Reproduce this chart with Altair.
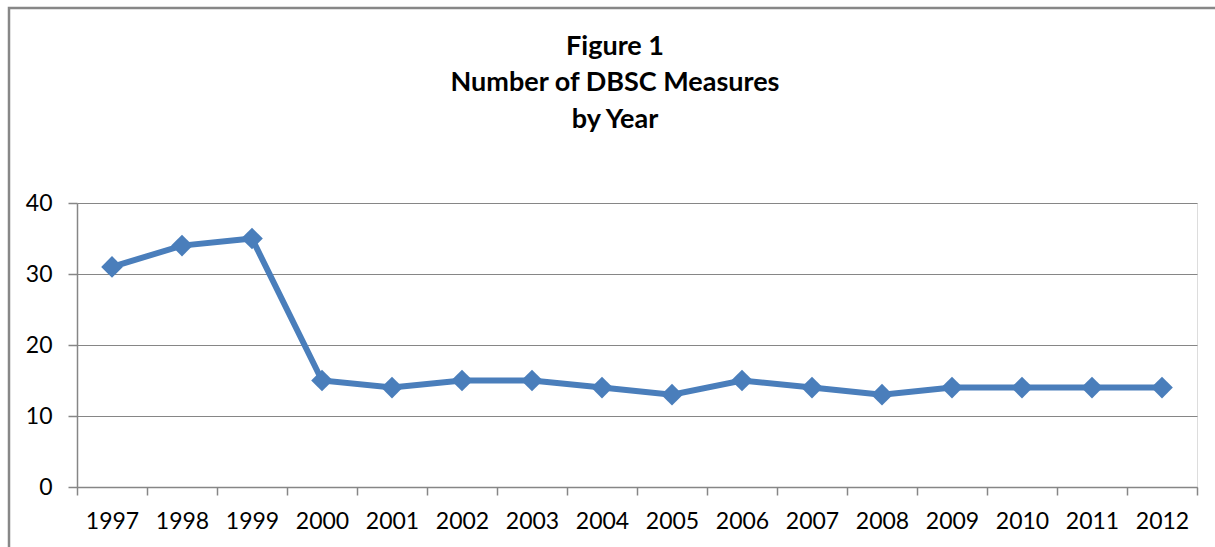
import altair as alt
import pandas as pd

years = ["1997", "1998", "1999", "2000", "2001", "2002", "2003", "2004",
         "2005", "2006", "2007", "2008", "2009", "2010", "2011", "2012"]
measures = [31, 34, 35, 15, 14, 15, 15, 14, 13, 15, 14, 13, 14, 14, 14, 14]
y_ticks = [0, 10, 20, 30, 40]
title_lines = ["Figure 1", "Number of DBSC Measures", "by Year"]

df = pd.DataFrame({"year": years, "measures": measures})

FONT = "Lato"
GRAY = "#868686"
BLUE = "#4A7EBB"

x_enc = alt.X(
    "year:N",
    sort=years,
    scale=alt.Scale(type="band", paddingInner=0, paddingOuter=0),
    axis=alt.Axis(
        title=None, labelAngle=0, tickBand="extent", tickSize=8,
        tickColor=GRAY, domainColor=GRAY, domainWidth=1.5, tickWidth=1.5,
        labelFontSize=23, labelFont=FONT, labelColor="black", labelPadding=15,
        grid=False,
    ),
)
y_enc = alt.Y(
    "measures:Q",
    scale=alt.Scale(domain=[0, 40], nice=False),
    axis=alt.Axis(
        title=None, values=y_ticks, tickSize=9, tickColor=GRAY,
        domainColor=GRAY, domainWidth=1.5, tickWidth=1.5,
        gridColor=GRAY, gridWidth=1.2, labelFontSize=23, labelFont=FONT,
        labelColor="black", labelPadding=16,
    ),
)

line = alt.Chart(df).mark_line(
    color=BLUE, strokeWidth=6,
    point=alt.OverlayMarkDef(shape="diamond", size=470, filled=True, color=BLUE, opacity=1),
).encode(x=x_enc, y=y_enc)

frame = alt.Chart(pd.DataFrame({"a": [0]})).mark_rect(
    filled=False, stroke="#878787", strokeWidth=2.5
).encode(
    x=alt.value(-68), x2=alt.value(1400),
    y=alt.value(-195), y2=alt.value(600),
)

chart = alt.layer(frame, line).properties(
    width=1120,
    height=284,
    title=alt.TitleParams(
        title_lines, fontSize=27, font=FONT, fontWeight="bold",
        lineHeight=36.5, anchor="middle", frame="group", dx=-22, offset=-127,
        color="black",
    ),
    padding={"left": 77, "top": 203, "right": 18, "bottom": 60},
    autosize=alt.AutoSizeParams(type="none"),
).configure_view(stroke=None).configure(background="white")

chart.save("out.html", embed_options={"renderer": "svg", "actions": False})
